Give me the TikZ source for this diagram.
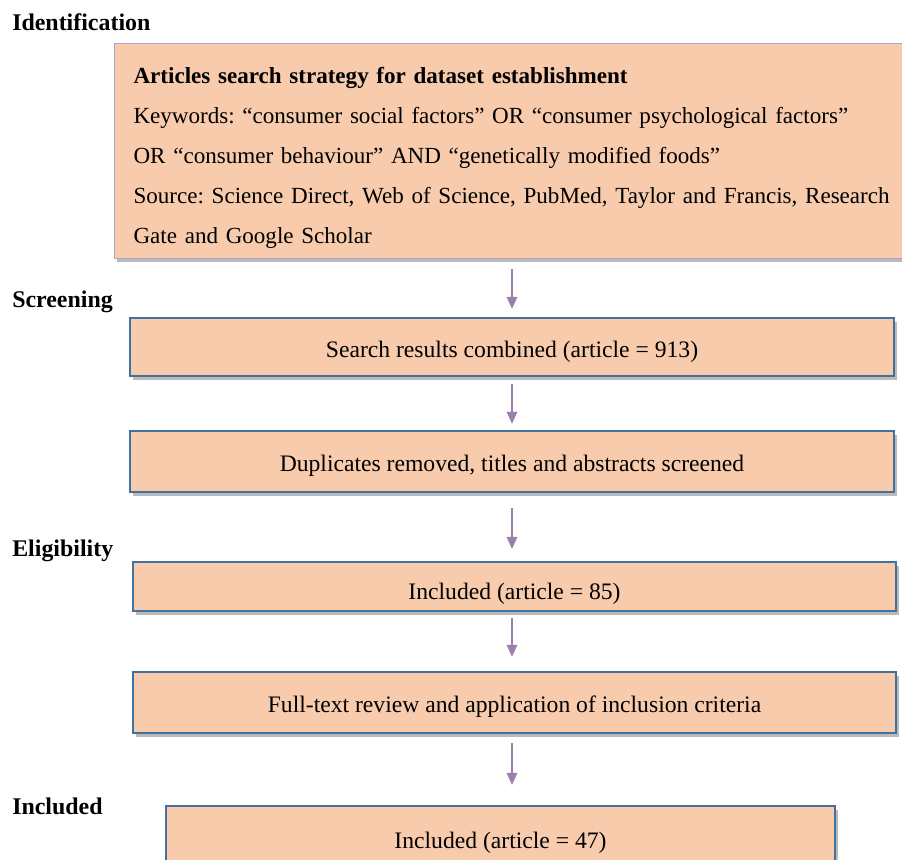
\documentclass[tikz,border=0pt]{standalone}
\usepackage{fontspec}
\setmainfont{Liberation Serif}
\usetikzlibrary{arrows.meta, positioning, shadows}
\definecolor{boxpeach}{HTML}{F8CBAD}
\definecolor{boxblue}{HTML}{41719C}
\definecolor{boxlilac}{HTML}{B4A2C4}
\definecolor{arrowlilac}{HTML}{9C80AC}
\tikzset{
  stage/.style={draw=boxblue, line width=1.6pt, fill=boxpeach, align=center,
                inner sep=0pt, text height=14.4pt, text depth=0pt,
                font=\fontsize{16.8}{20}\selectfont,
                drop shadow={shadow xshift=2pt, shadow yshift=-2.5pt,
                             opacity=0.45, fill=black!60}},
  search/.style={draw=boxlilac, line width=0.8pt, fill=boxpeach, align=left,
                 inner xsep=0.475cm, inner ysep=0pt,
                 font=\fontsize{16.4}{28.45}\selectfont\frenchspacing,
                 drop shadow={shadow xshift=2pt, shadow yshift=-2.5pt,
                              opacity=0.45, fill=black!60}},
  phase/.style={anchor=base west, inner sep=0pt,
                font=\fontsize{17}{20}\selectfont\bfseries},
  flow/.style={-{Triangle[length=8.5pt, width=7.5pt]}, line width=0.9pt,
               draw=arrowlilac},
}

\begin{document}
\begin{tikzpicture}[x=0.025cm, y=-0.025cm]
  \useasboundingbox (0,0) rectangle (902,860);
  \clip (0,0) rectangle (902,860);

  % phase labels
  \node[phase] (lident) at (12,31)  {Identification};
  \node[phase] (lscreen) at (12,307) {Screening};
  \node[phase] (lelig) at (12,556)  {Eligibility};
  \node[phase] (lincl) at (12,814)  {Included};

  % boxes
  \node[search, anchor=north west, text width=19.6cm, minimum height=5.375cm]
       (ident) at (114,43) {%
    \rule{0pt}{20.5pt}\textbf{Articles search strategy for dataset establishment}\\
    Keywords: “consumer social factors” OR “consumer psychological factors”\\
    OR “consumer behaviour” AND “genetically modified foods”\\
    Source: Science Direct, Web of Science, PubMed, Taylor and Francis, Research\\
    Gate and Google Scholar};
  \node[stage, minimum width=19.1cm, minimum height=1.45cm] (combined) at (512,347)
       {Search results combined (article = 913)};
  \node[stage, minimum width=19.1cm, minimum height=1.525cm] (dupl) at (512,461.5)
       {Duplicates removed, titles and abstracts screened};
  \node[stage, text height=18pt, minimum width=19.075cm, minimum height=1.225cm]
       (incl85) at (514.5,586.5) {Included (article = 85)};
  \node[stage, minimum width=19.075cm, minimum height=1.525cm] (fulltext) at (514.5,702.5)
       {Full-text review and application of inclusion criteria};
  \node[stage, minimum width=16.725cm, minimum height=1.6cm] (incl47) at (500.5,838)
       {Included (article = 47)};

  % arrows
  \draw[flow, shorten <=7pt, shorten >=5.7pt] (ident.south -| combined.north) -- (combined.north);
  \draw[flow, shorten <=5pt, shorten >=4.3pt] (combined.south) -- (dupl.north);
  \draw[flow, shorten <=10.7pt, shorten >=8.5pt] (dupl.south) -- (dupl.south |- incl85.north);
  \draw[flow, shorten <=4.3pt, shorten >=10pt] (dupl.south |- incl85.south) -- (dupl.south |- fulltext.north);
  \draw[flow, shorten <=6.4pt, shorten >=14.2pt] (dupl.south |- fulltext.south) -- (dupl.south |- incl47.north);
\end{tikzpicture}
\end{document}
